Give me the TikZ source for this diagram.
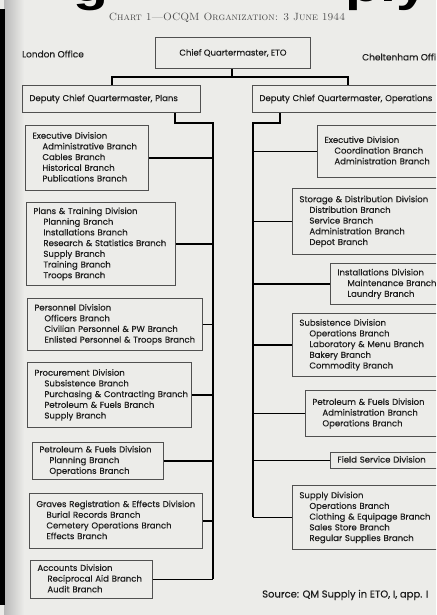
\documentclass[tikz,border=0pt]{standalone}
\usepackage{fontspec}
\newfontfamily\fut[FakeBold=0.4]{Poppins}
\newfontfamily\hd{Liberation Sans}
\definecolor{paper}{RGB}{236,236,233}
\definecolor{ink}{RGB}{30,30,30}
\definecolor{boxc}{RGB}{80,80,80}
\newcommand\brn{\\\hspace*{10pt}}
\newcommand\bx[6]{%
 \pgfmathsetmacro\bw{#4-#2}\pgfmathsetmacro\bh{#5-#3}\pgfmathsetmacro\tw{#4-#2-14}%
 \node[orgbox,minimum width=\bw pt,minimum height=\bh pt,text width=\tw pt] (#1) at (#2,#3) {\begin{tabular}{@{}l@{}}#6\end{tabular}};}
\begin{document}
\begin{tikzpicture}[x=1pt,y=-1pt,
 orgbox/.style={draw=boxc,line width=0.9pt,anchor=north west,inner xsep=7pt,inner ysep=0pt,align=left,text=ink,font=\fut\fontsize{8.5}{10.7}\selectfont},
 conn/.style={line width=1.8pt,black},
 lbl/.style={text=ink,inner sep=0pt,font=\fut\fontsize{9}{10}\selectfont}]
\useasboundingbox (0,0) rectangle (436,615);
\clip (0,0) rectangle (436,615);
\fill[paper] (0,0) rectangle (436,615);
\shade[left color=gray!55,right color=paper] (4,0) rectangle (24,615);
\fill[black] (0,9) rectangle (5,605);
% cut-off heading fragments
\node[font=\hd\bfseries\fontsize{44}{44}\selectfont,anchor=base west,inner sep=0pt] (fraga) at (73,2) {\scalebox{1.3}[1]{g}};
\node[font=\hd\bfseries\fontsize{44}{44}\selectfont,anchor=base west,inner sep=0pt] (fragb) at (345,2) {\scalebox{1.3}[1]{ply}};
% title
\node[font=\rmfamily\scshape\fontsize{10.5}{12}\selectfont,text=ink!80,inner sep=0pt] (title) at (227,18) {Chart 1—OCQM Organization: 3 June 1944};
\node[lbl,anchor=west] (london) at (22,54) {London Office};
\node[lbl,anchor=west] (chelt) at (362,57) {Cheltenham Office};
% top boxes
\node[orgbox,minimum width=155pt,minimum height=31pt,align=center] (chief) at (155,37) {Chief Quartermaster, ETO};
\bx{dplans}{22}{85}{200}{112}{Deputy Chief Quartermaster, Plans}
\bx{dops}{252}{85}{450}{112}{Deputy Chief Quartermaster, Operations}
% left column
\bx{lexec}{25}{125}{148}{190}{Executive Division\brn Administrative Branch\brn Cables Branch\brn Historical Branch\brn Publications Branch}
\bx{lpt}{26}{202}{175}{285}{Plans \& Training Division\brn Planning Branch\brn Installations Branch\brn Research \& Statistics Branch\brn Supply Branch\brn Training Branch\brn Troops Branch}
\bx{lpers}{27}{298}{202}{350}{Personnel Division\brn Officers Branch\brn Civilian Personnel \& PW Branch\brn Enlisted Personnel \& Troops Branch}
\bx{lproc}{27}{362}{191}{427}{Procurement Division\brn Subsistence Branch\brn Purchasing \& Contracting Branch\brn Petroleum \& Fuels Branch\brn Supply Branch}
\bx{lpet}{32}{442}{163}{479}{Petroleum \& Fuels Division\brn Planning Branch\brn Operations Branch}
\bx{lgrav}{29}{493}{202}{548}{Graves Registration \& Effects Division\brn Burial Records Branch\brn Cemetery Operations Branch\brn Effects Branch}
\bx{lacc}{30}{560}{152}{598}{Accounts Division\brn Reciprocal Aid Branch\brn Audit Branch}
% right column
\bx{rexec}{317}{125}{450}{177}{Executive Division\brn Coordination Branch\brn Administration Branch}
\bx{rsto}{292}{188}{450}{254}{Storage \& Distribution Division\brn Distribution Branch\brn Service Branch\brn Administration Branch\brn Depot Branch}
\bx{rinst}{330}{263}{450}{304}{Installations Division\brn Maintenance Branch\brn Laundry Branch}
\bx{rsub}{292}{313}{450}{376}{Subsistence Division\brn Operations Branch\brn Laboratory \& Menu Branch\brn Bakery Branch\brn Commodity Branch}
\bx{rpet}{305}{390}{450}{436}{Petroleum \& Fuels Division\brn Administration Branch\brn Operations Branch}
\bx{rfield}{330}{452}{450}{468}{Field Service Division}
\bx{rsup}{292}{485}{450}{549}{Supply Division\brn Operations Branch\brn Clothing \& Equipage Branch\brn Sales Store Branch\brn Regular Supplies Branch}
\node[lbl,anchor=west,font=\fut\fontsize{10}{11}\selectfont] (source) at (262,595) {Source: QM Supply in ETO, I, app. I};
% top connectors
\coordinate (tj) at (232,77);
\coordinate (tl) at (112,77);
\coordinate (tr) at (348,77);
\draw[conn] (chief.south -| tj) -- (tj);
\draw[conn] (dplans.north -| tl) -- (tl) -- (tr) -- (dops.north -| tr);
% left spine
\coordinate (ls) at (175,123);
\coordinate (lsp) at (213,123);
\draw[conn] (dplans.south -| ls) -- (ls) -- (lsp) -- (lacc.east -| lsp);
\foreach \b in {lexec,lpt,lpers,lproc,lpet,lgrav,lacc}
  \draw[conn] (\b.east) -- (\b.east -| lsp);
% right spine
\coordinate (rs) at (280,123);
\coordinate (rsp) at (253,123);
\draw[conn] (dops.south -| rs) -- (rs) -- (rsp) -- (rsup.west -| rsp);
\foreach \b in {rexec,rsto,rinst,rsub,rpet,rfield,rsup}
  \draw[conn] (\b.west) -- (\b.west -| rsp);
\end{tikzpicture}
\end{document}
